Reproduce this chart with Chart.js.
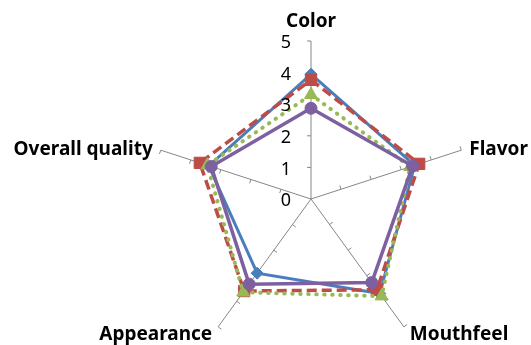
<!DOCTYPE html>
<html>
<head>
<meta charset="utf-8">
<script src="https://cdn.jsdelivr.net/npm/chart.js@4/dist/chart.umd.min.js"></script>
<style>
  html, body { margin: 0; padding: 0; background: #fff; }
  #wrap { width: 531px; height: 345px; position: relative; }
</style>
</head>
<body>
<div id="wrap"><canvas id="c" width="531" height="345"></canvas></div>
<script>
// Sensory attributes (spokes) and tick labels
const attributes = ['Color', 'Flavor', 'Mouthfeel', 'Appearance', 'Overall quality'];
const tickValues = [0, 1, 2, 3, 4, 5];

// Mean scores per sample
const sampleA = [3.95, 3.45, 3.70, 2.90, 3.40];
const sampleB = [3.77, 3.60, 3.55, 3.60, 3.70];
const sampleC = [3.30, 3.30, 3.80, 3.65, 3.45];
const sampleD = [2.87, 3.38, 3.27, 3.33, 3.32];

const AXIS_COLOR = '#868686';
const LABEL_FONT = 'bold 19px "Noto Sans", "DejaVu Sans", sans-serif';
const TICK_FONT = '18px "Noto Sans", "DejaVu Sans", sans-serif';
const PLOT_RADIUS = 158;

// Spoke tick marks, value labels on the first spoke and attribute names
const spokeDecor = {
  id: 'spokeDecor',
  beforeDatasetsDraw(chart) {
    const s = chart.scales.r;
    const ctx = chart.ctx;
    ctx.save();
    ctx.strokeStyle = AXIS_COLOR;
    ctx.lineWidth = 1;
    attributes.forEach((_, i) => {
      const a = s.getIndexAngle(i) - Math.PI / 2;
      const px = Math.sin(a), py = -Math.cos(a);
      tickValues.forEach(v => {
        if (v === 0) return;
        const p = s.getPointPositionForValue(i, v);
        ctx.beginPath();
        ctx.moveTo(p.x, p.y);
        ctx.lineTo(p.x + px * 4, p.y + py * 4);
        ctx.stroke();
      });
    });
    ctx.restore();
  },
  afterDraw(chart) {
    const s = chart.scales.r;
    const ctx = chart.ctx;
    ctx.save();
    // value labels beside the first spoke
    ctx.font = TICK_FONT;
    ctx.fillStyle = '#000';
    ctx.textAlign = 'right';
    ctx.textBaseline = 'middle';
    tickValues.forEach(v => {
      const p = s.getPointPositionForValue(0, v);
      ctx.fillText(String(v), p.x - 20, p.y + 2);
    });
    // attribute names outside the spoke ends
    ctx.font = LABEL_FONT;
    ctx.textBaseline = 'alphabetic';
    attributes.forEach((name, i) => {
      const p = s.getPointPositionForValue(i, s.max);
      const a = s.getIndexAngle(i) - Math.PI / 2;
      const dx = Math.cos(a), dy = Math.sin(a);
      let x = p.x, y = p.y;
      if (Math.abs(dx) < 0.2) {
        ctx.textAlign = 'center';
        y = p.y - 14;
      } else {
        const gap = dy < 0 ? 8 : 6;
        ctx.textAlign = dx > 0 ? 'left' : 'right';
        x = p.x + (dx > 0 ? gap : -gap);
        y = p.y + (dy < 0 ? 5 : 13);
      }
      ctx.fillText(name, x, y);
    });
    ctx.restore();
  }
};

const datasets = [
  { label: 'A', data: sampleA, borderColor: '#4A7EBB', backgroundColor: '#4A7EBB',
    borderWidth: 3, pointStyle: 'rectRot', pointRadius: 6, order: 3 },
  { label: 'B', data: sampleB, borderColor: '#BE4B48', backgroundColor: '#BE4B48',
    borderWidth: 3.5, borderDash: [10, 5], pointStyle: 'rect', pointRadius: 8, order: 2 },
  { label: 'C', data: sampleC, borderColor: '#98B954', backgroundColor: '#98B954',
    borderWidth: 4, borderDash: [0.5, 7.5], borderCapStyle: 'round', pointStyle: 'triangle', pointRadius: 7.5, order: 1 },
  { label: 'D', data: sampleD, borderColor: '#7D60A0', backgroundColor: '#7D60A0',
    borderWidth: 3.5, pointStyle: 'circle', pointRadius: 6, order: 0 }
].map(d => Object.assign({ fill: false, pointBorderWidth: 1, pointBorderColor: d.borderColor,
  pointBackgroundColor: d.borderColor, tension: 0 }, d));

new Chart(document.getElementById('c'), {
  type: 'radar',
  data: { labels: attributes, datasets },
  options: {
    responsive: false,
    devicePixelRatio: 1,
    animation: false,
    layout: { padding: { left: 153, right: 62, top: 41, bottom: 0 } },
    plugins: { legend: { display: false }, tooltip: { enabled: false } },
    scales: {
      r: {
        min: 0,
        max: 5,
        ticks: { stepSize: 1, display: false },
        grid: { display: false },
        angleLines: { display: true, color: AXIS_COLOR, lineWidth: 1 },
        pointLabels: { display: false },
        // the plot runs from the top padding down by a fixed radius
        afterFit(scale) {
          scale.drawingArea = PLOT_RADIUS;
          scale.yCenter = Math.floor(scale.top + PLOT_RADIUS);
        }
      }
    }
  },
  plugins: [spokeDecor]
});
</script>
</body>
</html>
